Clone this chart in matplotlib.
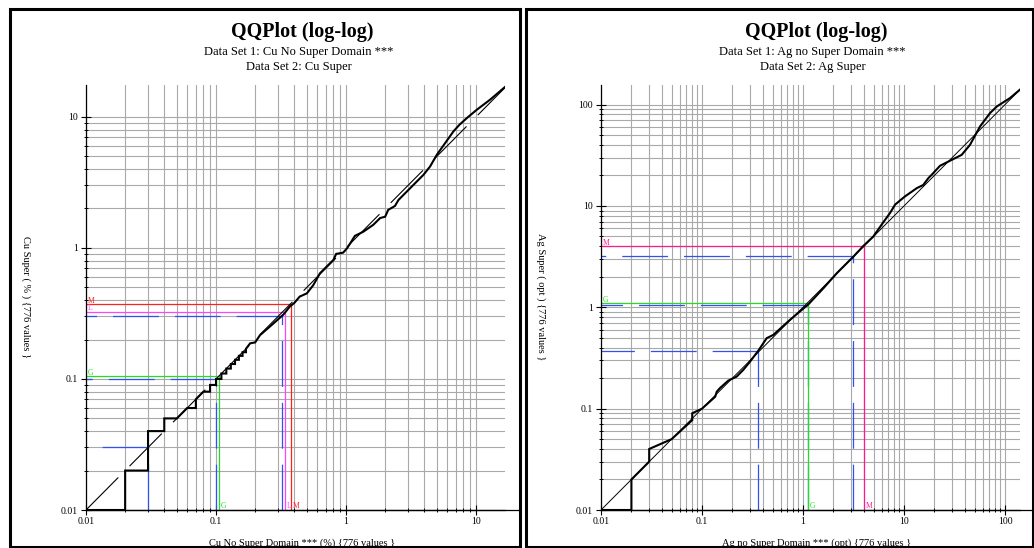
import matplotlib
matplotlib.use("Agg")
import matplotlib.pyplot as plt
from matplotlib.ticker import LogLocator, FixedLocator, FixedFormatter, NullFormatter
from matplotlib.patches import Rectangle
from matplotlib.lines import Line2D

plt.rcParams["font.family"] = ["Liberation Serif", "DejaVu Serif"]
plt.rcParams["lines.scale_dashes"] = False

W, H = 1034, 548

# ---------------- Cu panel ----------------
cu_title = "QQPlot (log-log)"
cu_sub1 = "Data Set 1: Cu No Super Domain ***"
cu_sub2 = "Data Set 2: Cu Super"
cu_xlabel = "Cu No Super Domain *** (%) {776 values }"
cu_ylabel = "Cu Super ( % ) {776 values }"
cu_q1 = [0.01, 0.02, 0.02, 0.03, 0.03, 0.04, 0.04, 0.05, 0.06, 0.07, 0.07, 0.08,
         0.09, 0.09, 0.10, 0.10, 0.11, 0.11, 0.12, 0.12, 0.13, 0.13, 0.14, 0.14,
         0.15, 0.15, 0.16, 0.16, 0.17, 0.17, 0.183, 0.20, 0.218, 0.268, 0.33,
         0.37, 0.40, 0.44, 0.50, 0.56, 0.63, 0.80, 0.84, 0.95, 1.02, 1.17, 1.36,
         1.62, 1.83, 2.0, 2.11, 2.38, 2.53, 3.02, 3.50, 3.94, 4.43, 4.99, 5.78,
         6.69, 7.44, 8.48, 10.1, 12.8, 16.7]
cu_q2 = [0.01, 0.01, 0.02, 0.02, 0.04, 0.04, 0.05, 0.05, 0.06, 0.06, 0.07, 0.08,
         0.08, 0.09, 0.09, 0.10, 0.10, 0.11, 0.11, 0.12, 0.12, 0.13, 0.13, 0.14,
         0.14, 0.15, 0.15, 0.16, 0.16, 0.17, 0.187, 0.19, 0.216, 0.258, 0.31,
         0.357, 0.38, 0.425, 0.45, 0.52, 0.64, 0.81, 0.90, 0.92, 0.995, 1.235,
         1.33, 1.50, 1.69, 1.73, 1.95, 2.09, 2.32, 2.77, 3.21, 3.61, 4.18, 5.13,
         6.30, 7.73, 8.69, 9.77, 11.3, 13.5, 16.9]
cu_xlim = (0.01, 16.7)
cu_ylim = (0.01, 17.5)
cu_ticks = [0.01, 0.1, 1, 10]
cu_ticklabels = ["0.01", "0.1", "1", "10"]
cu_quant_x = [0.03, 0.10, 0.32]
cu_quant_y = [0.03, 0.10, 0.30]
cu_stat_names = ["G", "L", "M"]
cu_stat_x = [0.106, 0.34, 0.376]
cu_stat_y = [0.105, 0.327, 0.374]
cu_stat_colors = ["#22dd22", "#ff44ff", "#ff2020"]

# ---------------- Ag panel ----------------
ag_title = "QQPlot (log-log)"
ag_sub1 = "Data Set 1: Ag no Super Domain ***"
ag_sub2 = "Data Set 2: Ag Super"
ag_xlabel = "Ag no Super Domain *** (opt) {776 values }"
ag_ylabel = "Ag Super ( opt ) {776 values }"
ag_q1 = [0.01, 0.02, 0.02, 0.03, 0.03, 0.05, 0.08, 0.08, 0.10, 0.135, 0.14,
         0.15, 0.182, 0.22, 0.256, 0.298, 0.36, 0.437, 0.508, 0.743, 1.13, 1.59,
         2.16, 3.15, 3.96, 4.96, 6.3, 7.26, 8.15, 10.2, 13.4, 15.5, 17.4, 18.8,
         22.7, 29.7, 37.2, 45.0, 56.5, 71.0, 82.8, 112.0, 140.0]
ag_q2 = [0.01, 0.01, 0.02, 0.03, 0.04, 0.05, 0.077, 0.09, 0.10, 0.131, 0.147,
         0.159, 0.189, 0.207, 0.241, 0.29, 0.372, 0.496, 0.534, 0.752, 1.07,
         1.54, 2.17, 3.16, 4.03, 4.99, 7.0, 8.5, 10.3, 12.4, 15.0, 16.1, 18.8,
         20.3, 24.9, 28.5, 31.9, 40.1, 60.8, 82.4, 95.7, 116.0, 140.0]
ag_xlim = (0.01, 140.6)
ag_ylim = (0.01, 156.0)
ag_ticks = [0.01, 0.1, 1, 10, 100]
ag_ticklabels = ["0.01", "0.1", "1", "10", "100"]
ag_quant_x = [0.36, 1.13, 3.13]
ag_quant_y = [0.37, 1.05, 3.20]
ag_stat_names = ["G", "M"]
ag_stat_x = [1.12, 4.0]
ag_stat_y = [1.10, 4.0]
ag_stat_colors = ["#22dd22", "#ff1a8c"]

QUANT_COLOR = "#3050f0"
GRID_COLOR = "#a9a9a9"
DASH = (0, (33, 11.5))


def px_box(left, top, right, bottom):
    return [left / W, 1 - bottom / H, (right - left) / W, (bottom - top) / H]


def draw_panel(ax, q1, q2, xlim, ylim, ticks, ticklabels,
               quant_x, quant_y, stat_names, stat_x, stat_y, stat_colors,
               ref_dashed):
    ax.set_xscale("log")
    ax.set_yscale("log")
    ax.set_xlim(*xlim)
    ax.set_ylim(*ylim)

    for axis in (ax.xaxis, ax.yaxis):
        axis.set_major_locator(FixedLocator(ticks))
        axis.set_major_formatter(FixedFormatter(ticklabels))
        axis.set_minor_locator(LogLocator(base=10, subs=range(2, 10), numticks=50))
        axis.set_minor_formatter(NullFormatter())

    ax.set_axisbelow(True)
    ax.grid(True, which="both", color=GRID_COLOR, lw=0.8)
    ax.spines["top"].set_visible(False)
    ax.spines["right"].set_visible(False)
    for s in ("left", "bottom"):
        ax.spines[s].set_linewidth(0.9)

    ax.tick_params(which="major", direction="inout", length=6.5, width=0.8,
                   labelsize=7, colors="black")
    ax.tick_params(axis="x", which="major", pad=1.8)
    ax.tick_params(axis="y", which="major", pad=2.5)
    ax.tick_params(which="minor", direction="inout", length=3.5, width=0.7)

    x0, y0 = xlim[0], ylim[0]

    # quantile guide lines (dashed blue)
    for qx, qy in zip(quant_x, quant_y):
        ax.plot([qx, x0], [qy, qy], color=QUANT_COLOR, lw=0.9, ls=DASH, zorder=2)
        ax.plot([qx, qx], [y0, qy], color=QUANT_COLOR, lw=0.9, ls=DASH, zorder=2)

    # summary statistic guide lines
    for name, sx, sy, c in zip(stat_names, stat_x, stat_y, stat_colors):
        ax.plot([x0, sx, sx], [sy, sy, y0], color=c, lw=0.9, zorder=2.2)
        ax.annotate(name, xy=(x0, sy), xytext=(1.6, 0.9), textcoords="offset points",
                    fontsize=5.5, color=c, ha="left", va="baseline",
                    annotation_clip=False)
        ax.annotate(name, xy=(sx, y0), xytext=(1.4, 1.2), textcoords="offset points",
                    fontsize=5.5, color=c, ha="left", va="baseline",
                    annotation_clip=False)

    # y = x reference
    top = min(xlim[1], ylim[1])
    if ref_dashed:
        ax.plot([x0, top], [x0, top], color="black", lw=0.8, ls=DASH, zorder=2.5)
    else:
        ax.plot([x0, top], [x0, top], color="black", lw=0.7, zorder=2.5)

    # quantile-quantile curve
    ax.plot(q1, q2, color="black", lw=1.5, zorder=3, solid_joinstyle="miter")


fig = plt.figure(figsize=(W / 100, H / 100), dpi=100)

ax1 = fig.add_axes(px_box(86, 85, 505, 510))
ax2 = fig.add_axes(px_box(601, 85, 1020, 510))

draw_panel(ax1, cu_q1, cu_q2, cu_xlim, cu_ylim, cu_ticks, cu_ticklabels,
           cu_quant_x, cu_quant_y, cu_stat_names, cu_stat_x, cu_stat_y,
           cu_stat_colors, ref_dashed=True)
draw_panel(ax2, ag_q1, ag_q2, ag_xlim, ag_ylim, ag_ticks, ag_ticklabels,
           ag_quant_x, ag_quant_y, ag_stat_names, ag_stat_x, ag_stat_y,
           ag_stat_colors, ref_dashed=False)


def fx(px):
    return px / W


def fy(py):
    return 1 - py / H


panels = [
    (86, 519, cu_title, cu_sub1, cu_sub2, cu_xlabel, cu_ylabel, 26),
    (601, 1032, ag_title, ag_sub1, ag_sub2, ag_xlabel, ag_ylabel, 541),
]
for (ax_left, frame_right, title, sub1, sub2, xlabel, ylabel, ylab_x) in panels:
    cx = (ax_left + frame_right) / 2
    fig.text(fx(cx), fy(37), title, ha="center", va="baseline",
             fontsize=14.5, fontweight="bold")
    fig.text(fx(cx - 4), fy(54.5), sub1, ha="center", va="baseline", fontsize=9)
    fig.text(fx(cx - 4), fy(70), sub2, ha="center", va="baseline", fontsize=9)
    fig.text(fx(cx), fy(543), xlabel, ha="center", va="center", fontsize=7.5)
    fig.text(fx(ylab_x), fy(297), ylabel, ha="center", va="center",
             rotation=270, fontsize=7.5)
    # x axis line runs on to the panel frame
    fig.add_artist(Line2D([fx(ax_left), fx(frame_right)], [fy(510), fy(510)],
                          color="black", lw=0.9, transform=fig.transFigure))

# panel frames
for (l, t, r, b) in [(9.5, 9, 519.5, 547), (525.5, 9, 1032.5, 547)]:
    fig.add_artist(Rectangle((fx(l), fy(b)), (r - l) / W, (b - t) / H,
                             transform=fig.transFigure, fill=False,
                             lw=2.2, ec="black", zorder=10))

fig.savefig("out.png", dpi=100)
